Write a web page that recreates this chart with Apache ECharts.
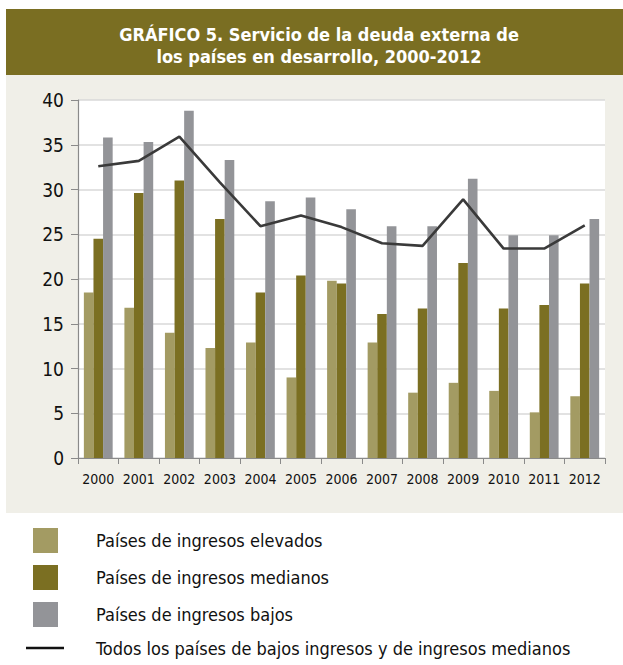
<!DOCTYPE html>
<html>
<head>
<meta charset="utf-8">
<script src="https://cdn.jsdelivr.net/npm/echarts@6/dist/echarts.min.js"></script>
<style>html,body{margin:0;padding:0;background:#fff}#c{width:623px;height:665px}</style>
</head>
<body>
<div id="c"></div>
<script>
const years = ['2000','2001','2002','2003','2004','2005','2006','2007','2008','2009','2010','2011','2012'];
const yTicks = [0, 5, 10, 15, 20, 25, 30, 35, 40];
const seriesNames = ['Países de ingresos elevados','Países de ingresos medianos','Países de ingresos bajos','Todos los países de bajos ingresos y de ingresos medianos'];
const elevados = [18.5, 16.8, 14.0, 12.3, 12.9, 9.0, 19.8, 12.9, 7.3, 8.4, 7.5, 5.1, 6.9];
const medianos = [24.5, 29.6, 31.0, 26.7, 18.5, 20.4, 19.5, 16.1, 16.7, 21.8, 16.7, 17.1, 19.5];
const bajos = [35.8, 35.3, 38.8, 33.3, 28.7, 29.1, 27.8, 25.9, 25.9, 31.2, 24.9, 24.9, 26.7];
const todos = [32.6, 33.2, 35.9, 30.8, 25.9, 27.1, 25.8, 24.0, 23.7, 28.9, 23.4, 23.4, 26.0];
const titleText = 'GRÁFICO 5. Servicio de la deuda externa de\nlos países en desarrollo, 2000-2012';

const FONT = "'Liberation Sans Narrow', 'DejaVu Sans Condensed', sans-serif";
const chart = echarts.init(document.getElementById('c'), null, {renderer: 'svg'});
chart.setOption({
  animation: false,
  backgroundColor: '#ffffff',
  textStyle: {fontFamily: FONT},
  graphic: [
    {type: 'rect', z: -10, shape: {x: 6, y: 9, width: 617, height: 66}, style: {fill: '#7A6E22'}},
    {type: 'rect', z: -10, shape: {x: 6, y: 75, width: 617, height: 438}, style: {fill: '#F0EFE8'}}
  ],
  title: {
    text: titleText,
    left: 314, top: 18, textAlign: 'center',
    textStyle: {color: '#ffffff', fontFamily: FONT, fontWeight: 'bold', fontSize: 18, lineHeight: 22}
  },
  grid: {left: 78, right: 18, top: 100, bottom: 207, show: true, backgroundColor: '#ffffff', borderWidth: 0},
  legend: [
    {
      data: seriesNames.slice(0, 3),
      orient: 'vertical', left: 33, top: 528, padding: 0,
      itemWidth: 25, itemHeight: 25, itemGap: 12, icon: 'rect',
      textStyle: {fontFamily: FONT, fontSize: 18, color: '#111', padding: [0, 0, 0, 33]}
    },
    {
      data: [seriesNames[3]],
      orient: 'vertical', left: 26, top: 639, padding: 0,
      itemWidth: 38, itemHeight: 24, icon: 'path://M0,10.8 L38,10.8 L38,13.4 L0,13.4 Z',
      textStyle: {fontFamily: FONT, fontSize: 18, color: '#111', padding: [0, 0, 0, 27]}
    }
  ],
  xAxis: {
    type: 'category', data: years,
    axisLine: {lineStyle: {color: '#8a8a8a', width: 1.2}},
    axisTick: {show: true, length: 6, lineStyle: {color: '#8a8a8a'}},
    axisLabel: {fontFamily: FONT, fontSize: 14, color: '#111', margin: 14, interval: 0}
  },
  yAxis: {
    type: 'value', min: yTicks[0], max: yTicks[yTicks.length - 1], interval: 5,
    axisLine: {show: true, lineStyle: {color: '#8a8a8a', width: 1.2}},
    axisTick: {show: true, length: 7, lineStyle: {color: '#8a8a8a'}},
    axisLabel: {fontFamily: FONT, fontSize: 19, color: '#111', margin: 14},
    splitLine: {show: true, lineStyle: {color: '#d9d9d9', width: 1.5}}
  },
  series: [
    {name: seriesNames[0], type: 'bar', data: elevados, barWidth: 9.6, barGap: '0%', itemStyle: {color: '#A39B63'}},
    {name: seriesNames[1], type: 'bar', data: medianos, barWidth: 9.6, barGap: '0%', itemStyle: {color: '#7B6F22'}},
    {name: seriesNames[2], type: 'bar', data: bajos, barWidth: 9.6, barGap: '0%', itemStyle: {color: '#939498'}},
    {name: seriesNames[3], type: 'line', data: todos, showSymbol: false, symbol: 'none',
     lineStyle: {color: '#3A3A3A', width: 2.6}, itemStyle: {color: '#111'}, z: 5}
  ]
});
</script>
</body>
</html>
